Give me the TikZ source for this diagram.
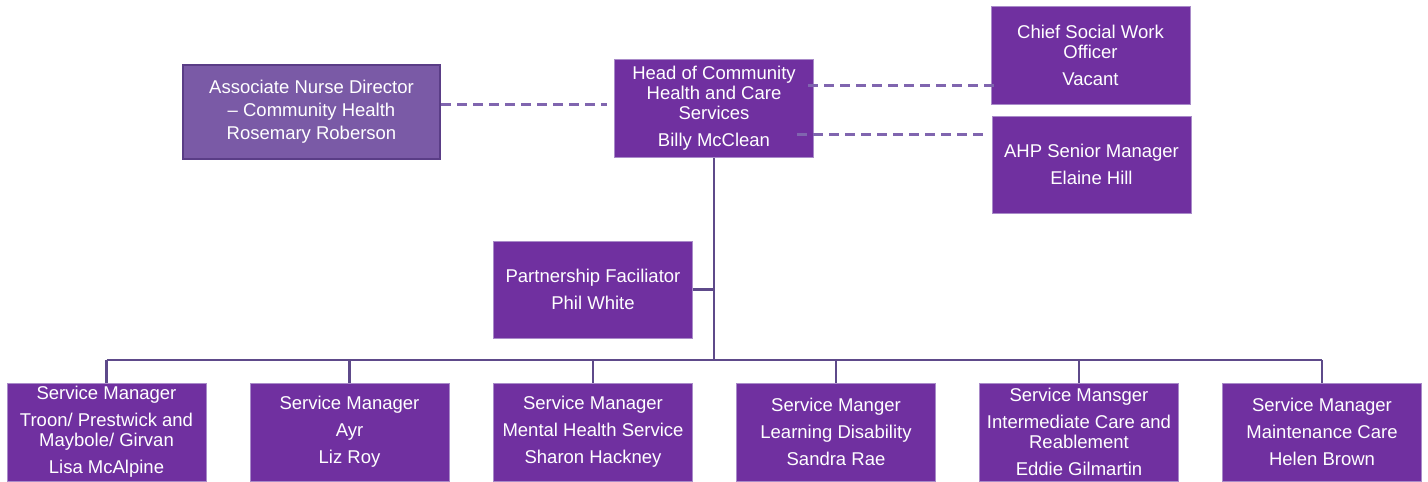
\documentclass[tikz,border=0pt]{standalone}
\usepackage{fontspec}
\setmainfont{Liberation Sans}
\usetikzlibrary{calc}
\definecolor{boxfill}{HTML}{7030A0}
\definecolor{boxedge}{HTML}{A98BC9}
\definecolor{softfill}{HTML}{7A5AA6}
\definecolor{softedge}{HTML}{5A3D86}
\definecolor{trunk}{HTML}{5E4A8A}
\definecolor{dashcol}{HTML}{8065AF}
\tikzset{
  post/.style={rectangle, fill=boxfill, draw=boxedge, line width=1pt,
    text=white, align=center, inner sep=0pt,
    minimum width=199pt, minimum height=98pt,
    font=\fontsize{18.5}{20}\selectfont},
  softpost/.style={post, fill=softfill, draw=softedge, line width=2.2pt},
  solidlink/.style={draw=trunk, line width=2.6pt},
  dashlink/.style={draw=dashcol, line width=3pt, dash pattern=on 10pt off 6pt}
}
\newcommand{\gap}{\\[7pt]}
\begin{document}
\begin{tikzpicture}[x=1pt,y=-1pt]
\useasboundingbox (0,0) rectangle (1428,482);

% reporting lines behind the boxes
\coordinate (bus) at (714,360);
\draw[solidlink] (714,157) -- (bus);
\draw[solidlink] (106.5,360) -- (1322,360);
\foreach \x in {106.5,349.5,593,836,1079,1322}
  \draw[solidlink] (\x,360) -- (\x,383);
\draw[solidlink] (692,289.5) -- (714,289.5);

% top tier
\node[softpost, minimum width=257pt, minimum height=94pt] (assoc) at (311.5,112)
  {Associate Nurse Director\\[3pt]– Community Health\\[3pt]Rosemary Roberson};
\node[post] (head) at (714,108)
  {Head of Community\\Health and Care\\Services\gap Billy McClean};
\node[post] (chief) at (1090.5,55) {Chief Social Work\\Officer\gap Vacant};
\node[post, minimum height=97pt] (ahp) at (1091.5,164.5)
  {AHP Senior Manager\gap Elaine Hill};
\node[post, minimum height=97pt] (partner) at (593,289.5)
  {Partnership Faciliator\gap Phil White};

% service managers
\node[post] (sm1) at (106.5,432)
  {Service Manager\gap Troon/ Prestwick and\\Maybole/ Girvan\gap Lisa McAlpine};
\node[post] (sm2) at (349.5,432) {Service Manager\gap Ayr\gap Liz Roy};
\node[post] (sm3) at (593,432)
  {Service Manager\gap Mental Health Service\gap Sharon Hackney};
\node[post] (sm4) at (836,432)
  {Service Manger\gap Learning Disability\gap Sandra Rae};
\node[post] (sm5) at (1079,432)
  {Service Mansger\gap Intermediate Care and\\Reablement\gap Eddie Gilmartin};
\node[post] (sm6) at (1322,432)
  {Service Manager\gap Maintenance Care\gap Helen Brown};

% advisory (dashed) lines
\draw[dashlink] ($(assoc.east)+(0,-8)$) -- ($(head.west |- assoc.east)+(-7,-8)$);
\draw[dashlink] ($(head.east)+(-6,-23)$) -- ($(chief.west)+(7,30)$);
\draw[dashlink] ($(head.east)+(-17,26)$) -- ($(ahp.west)+(-6,-30.5)$);
\end{tikzpicture}
\end{document}
